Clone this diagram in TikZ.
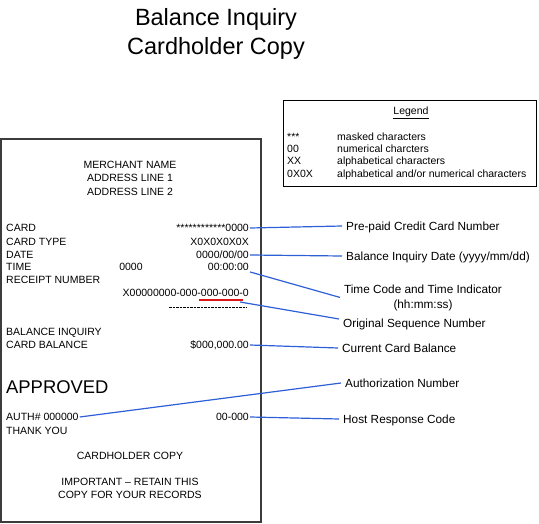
\documentclass[tikz,border=0pt]{standalone}
\usepackage{fontspec}
\setmainfont{Liberation Sans}
\definecolor{calloutblue}{RGB}{45,95,215}
\definecolor{markred}{RGB}{225,20,20}
\definecolor{framegray}{RGB}{60,60,60}

\begin{document}
\begin{tikzpicture}[x=1pt,y=-1pt,
  txt/.style={font=\fontsize{10.5}{12.6}\selectfont,inner sep=1pt,text height=7.5pt,text depth=0pt},
  lft/.style={txt,anchor=west},
  rgt/.style={txt,anchor=east},
  lbltxt/.style={font=\fontsize{11.8}{14}\selectfont,inner sep=4pt,text height=8.4pt,text depth=0pt},
  lbl/.style={lbltxt,anchor=west},
  big/.style={font=\fontsize{23.5}{28}\selectfont,inner sep=1pt,text height=16.8pt,text depth=0pt},
  callout/.style={draw=calloutblue,line width=1.2pt}]
\useasboundingbox (0,0) rectangle (539,524);
% title
\node[big] (title1) at (216,17) {Balance Inquiry};
\node[big] (title2) at (216,46) {Cardholder Copy};
% legend
\draw [line width=0.8pt] (283,100) rectangle (536,186);
\node[txt] (leghead) at (411,111) {\underline{Legend}};
\node[lft] (legsym1) at (286,137) {***};
\node[lft] (legtxt1) at (336,137) {masked characters};
\node[lft] (legsym2) at (286,149) {00};
\node[lft] (legtxt2) at (336,149) {numerical charcters};
\node[lft] (legsym3) at (286,161) {XX};
\node[lft] (legtxt3) at (336,161) {alphabetical characters};
\node[lft] (legsym4) at (286,174) {0X0X};
\node[lft] (legtxt4) at (336,174) {alphabetical and/or numerical characters};
% receipt
\draw [draw=framegray,line width=1.3pt] (1,139) rectangle (261,522);
\node[txt] (merchant) at (130,165) {MERCHANT NAME};
\node[txt] (addr1) at (130,178) {ADDRESS LINE 1};
\node[txt] (addr2) at (130,192) {ADDRESS LINE 2};
\node[lft] (card) at (5,228) {CARD};
\node[rgt] (cardval) at (250,228) {************0000};
\node[lft] (cardtype) at (5,242) {CARD TYPE};
\node[rgt] (typeval) at (250,242) {X0X0X0X0X};
\node[lft] (date) at (5,255) {DATE};
\node[rgt] (dateval) at (250,255) {0000/00/00};
\node[lft] (time) at (5,267) {TIME};
\node[txt] (timecode) at (131,267) {0000};
\node[rgt] (timeval) at (250,267) {00:00:00};
\node[lft] (receipt) at (5,280) {RECEIPT NUMBER};
\node[rgt] (receiptval) at (250,293) {X00000000-000-000-000-0};
\draw [markred,line width=2pt] (199,300.5) -- (243,300.5);
\coordinate (seqmark) at (240,302);
\draw [dash pattern=on 2.5pt off 1pt,line width=0.8pt] (169,307) -- (247,307);
\node[lft] (inquiry) at (5,332) {BALANCE INQUIRY};
\node[lft] (balance) at (5,345) {CARD BALANCE};
\node[rgt] (balval) at (250,345) {\$000,000.00};
\node[anchor=west,inner sep=1pt,font=\fontsize{18.4}{22}\selectfont,text height=13.2pt,text depth=0pt] (approved) at (5,387) {APPROVED};
\node[lft] (authno) at (5,417) {AUTH\# 000000};
\node[rgt] (hostval) at (250,417) {00-000};
\node[lft] (thanks) at (5,431) {THANK YOU};
\node[txt] (copy) at (130,456) {CARDHOLDER COPY};
\node[txt] (retain1) at (130,482) {IMPORTANT – RETAIN THIS};
\node[txt] (retain2) at (130,495) {COPY FOR YOUR RECORDS};
% callout labels
\node[lbl] (lblcard) at (342,226) {Pre-paid Credit Card Number};
\node[lbl] (lbldate) at (342,256) {Balance Inquiry Date (yyyy/mm/dd)};
\node[lbltxt] (lbltime) at (423,289) {Time Code and Time Indicator};
\node[lbltxt] (lbltime2) at (423,304) {(hh:mm:ss)};
\node[lbl] (lblseq) at (339,323) {Original Sequence Number};
\node[lbl] (lblbal) at (338,348) {Current Card Balance};
\node[lbl] (lblauth) at (341,383) {Authorization Number};
\node[lbl] (lblhost) at (339,419) {Host Response Code};
% callouts
\draw [callout] (cardval.east) -- (lblcard.west);
\draw [callout] (dateval.east) -- (lbldate.west);
\draw [callout] (timeval.south east) -- (lbltime.south west);
\draw [callout] (seqmark) -- ([yshift=4pt]lblseq.west);
\draw [callout] (balval.east) -- (lblbal.west);
\draw [callout] (authno.east) -- (lblauth.west);
\draw [callout] (hostval.east) -- (lblhost.west);
\end{tikzpicture}
\end{document}
